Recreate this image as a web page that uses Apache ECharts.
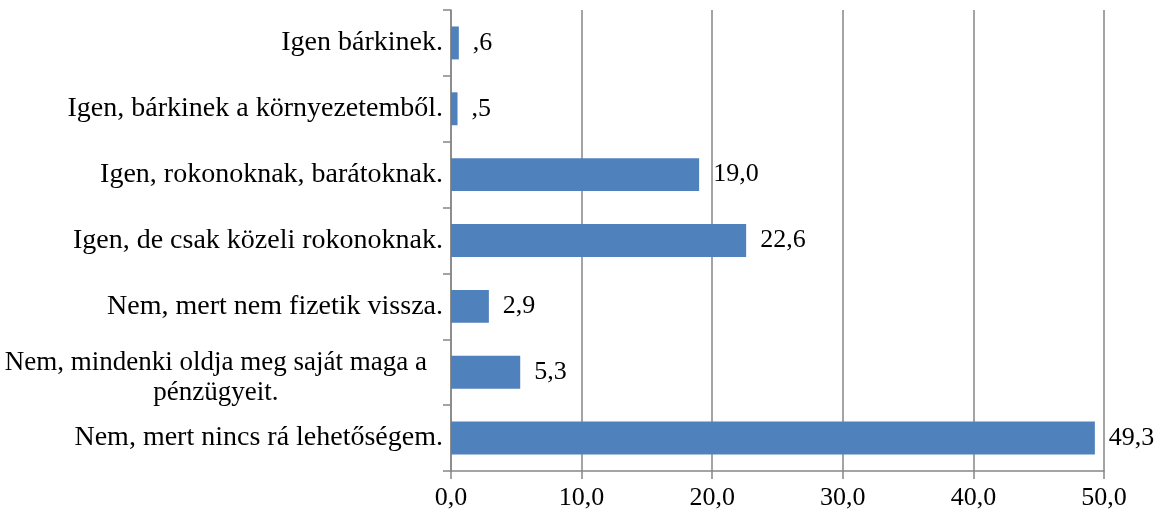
<!DOCTYPE html>
<html>
<head>
<meta charset="utf-8">
<script src="https://cdn.jsdelivr.net/npm/echarts@6/dist/echarts.min.js"></script>
<style>html,body{margin:0;padding:0;background:#fff;}#c{width:1163px;height:519px;}</style>
</head>
<body>
<div id="c"></div>
<script>
var categories = [
  'Igen bárkinek.',
  'Igen, bárkinek a környezetemből.',
  'Igen, rokonoknak, barátoknak.',
  'Igen, de csak közeli rokonoknak.',
  'Nem, mert nem fizetik vissza.',
  'Nem, mindenki oldja meg saját maga a\npénzügyeit.',
  'Nem, mert nincs rá lehetőségem.'
];
var values = [0.6, 0.5, 19.0, 22.6, 2.9, 5.3, 49.3];
var xTicks = [0, 10, 20, 30, 40, 50];

function fmt(v) {
  var s = v.toFixed(1).replace('.', ',');
  if (v < 1 && v > 0) s = s.replace(/^0/, '');
  return s;
}

var chart = echarts.init(document.getElementById('c'));
var font = '"Liberation Serif", "Times New Roman", serif';
chart.setOption({
  animation: false,
  grid: { left: 451, right: 59, top: 10, bottom: 48, containLabel: false, outerBoundsMode: 'none' },
  xAxis: {
    type: 'value', min: xTicks[0], max: xTicks[xTicks.length - 1], interval: 10,
    axisLine: { show: true, lineStyle: { color: '#868686', width: 1.5 } },
    axisTick: { show: true, inside: false, length: 8, lineStyle: { color: '#868686', width: 1.5 } },
    splitLine: { show: true, lineStyle: { color: '#868686', width: 1.5 } },
    axisLabel: { formatter: function (v) { return v.toFixed(1).replace('.', ','); },
      color: '#000', fontFamily: font, fontSize: 26, margin: 14 }
  },
  yAxis: {
    type: 'category', data: categories, inverse: true,
    axisLine: { show: true, lineStyle: { color: '#868686', width: 1.5 } },
    axisTick: { show: true, length: 8, lineStyle: { color: '#868686', width: 1.5 } },
    axisLabel: {
      color: '#000', fontFamily: font, fontSize: 28, margin: 8, lineHeight: 30,
      formatter: function (v) { return v.indexOf('\n') >= 0 ? '{c|' + v + '}' : v; },
      rich: { c: { align: 'center', fontFamily: font, fontSize: 27, color: '#000', lineHeight: 30, padding: [12, 16, 0, 0] } }
    }
  },
  series: [{
    type: 'bar', data: values, barWidth: '50%',
    itemStyle: { color: '#4F81BD' },
    label: { show: true, position: 'right', distance: 14, color: '#000',
      fontFamily: font, fontSize: 26,
      formatter: function (p) { return fmt(p.value); } }
  }]
});
</script>
</body>
</html>
